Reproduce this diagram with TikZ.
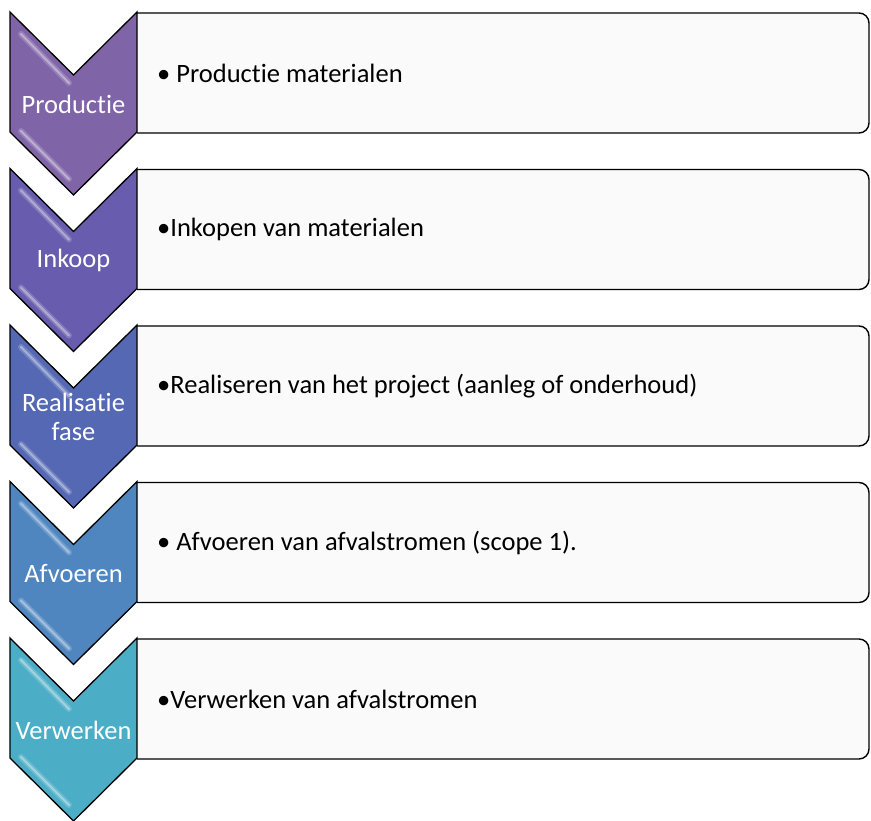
\documentclass[tikz,border=0pt]{standalone}
\usepackage{fontspec}
\setmainfont[Ligatures={NoCommon}]{Carlito}
\definecolor{stepA}{HTML}{8064A8}
\definecolor{stepB}{HTML}{675CAD}
\definecolor{stepC}{HTML}{5568B4}
\definecolor{stepD}{HTML}{5086C0}
\definecolor{stepE}{HTML}{4BADC6}
\definecolor{boxfill}{HTML}{FAFAFA}
\begin{document}
\begin{tikzpicture}[x=1pt,y=-1pt,
  chev/.style={draw=black, line width=1.3pt, line join=miter},
  infobox/.style={draw=black, line width=1.4pt, fill=boxfill},
  steplabel/.style={text=white, font=\fontsize{26.5}{29}\selectfont, align=center, inner sep=0pt},
  item/.style={text=black, font=\fontsize{26.5}{32}\selectfont, anchor=west, inner sep=0pt},
  glosswide/.style={white, opacity=0.18, line width=6pt, line cap=round},
  gloss/.style={white, opacity=0.35, line width=2.2pt, line cap=round}]
\useasboundingbox (0,0) rectangle (871,821);

% one chevron with its description box
% #1 = top, #2 = colour, #3 = node name, #4 = phase, #5 = description
\newcommand\phasestep[5]{%
  \begin{scope}
    \clip (137,0) rectangle (871,821);
    \draw[infobox, rounded corners=10pt] (110,#1+1) rectangle (869,#1+121);
  \end{scope}
  \fill[#2] (10,#1) -- (73.5,#1+63) -- (137,#1) -- (137,#1+120) -- (73.5,#1+183) -- (10,#1+120) -- cycle;
  \draw[glosswide] (21,#1+22) -- (69,#1+71);
  \draw[gloss] (21,#1+22) -- (69,#1+71);
  \draw[glosswide] (21,#1+119) -- (69,#1+167);
  \draw[gloss] (21,#1+119) -- (69,#1+167);
  \draw[chev] (10,#1) -- (73.5,#1+63) -- (137,#1) -- (137,#1+120) -- (73.5,#1+183) -- (10,#1+120) -- cycle;
  \node[steplabel] (#3) at (73.5,#1+92) {#4};
  \node[item] (#3-text) at (157,#1+61) {#5};
}

\phasestep{12}{stepA}{productie}{Productie}{• Productie materialen}
\phasestep{168.5}{stepB}{inkoop}{Inkoop}{•Inkopen van materialen}
\phasestep{325}{stepC}{realisatie}{Realisatie\\fase}{•Realiseren van het project (aanleg of onderhoud)}
\phasestep{481.5}{stepD}{afvoeren}{Afvoeren}{• Afvoeren van afvalstromen (scope 1).}
\phasestep{638}{stepE}{verwerken}{Verwerken}{•Verwerken van afvalstromen}
\end{tikzpicture}
\end{document}
